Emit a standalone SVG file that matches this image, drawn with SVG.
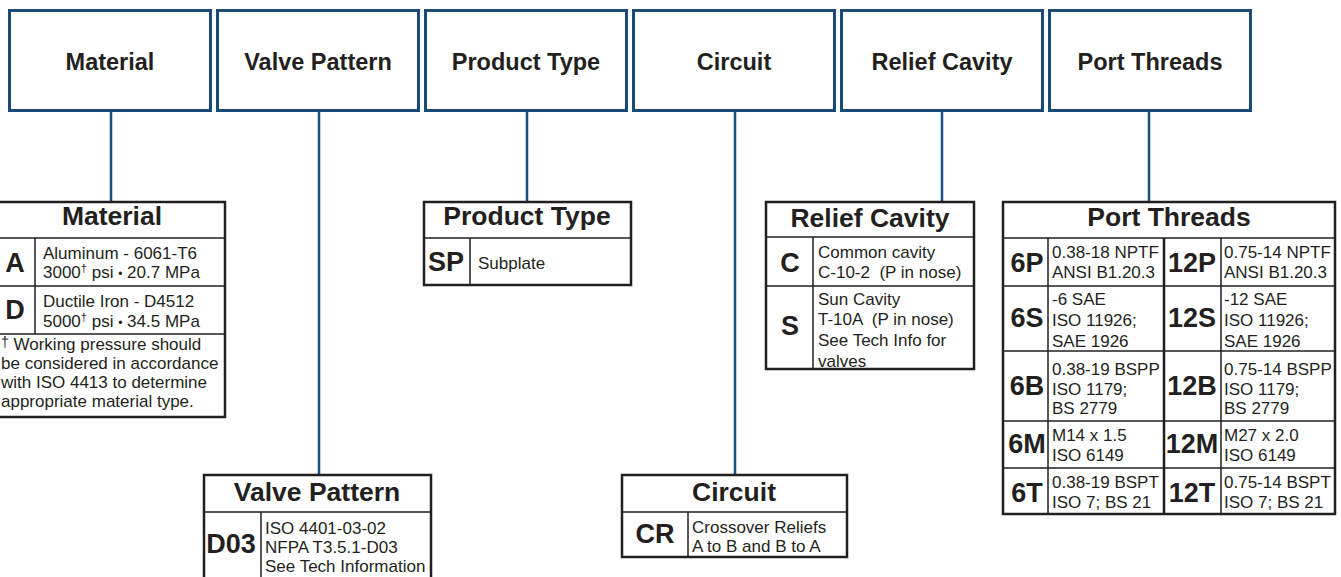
<svg xmlns="http://www.w3.org/2000/svg" width="1341" height="577" viewBox="0 0 1341 577">
<style>
text{fill:#231f20;font-family:"Liberation Sans",Arial,sans-serif}
.top rect{fill:#fff;stroke:#1a4a7a;stroke-width:3}
.h{font-size:23.5px;font-weight:bold;text-anchor:middle}
.th{font-size:26.5px;font-weight:bold;text-anchor:middle}
.code{font-size:27px;font-weight:bold;text-anchor:middle}
.t{font-size:17px}
.sup{font-size:11px}
.dot{font-size:12px}
.box{fill:#fff;stroke:#231f20;stroke-width:2.5}
.in{stroke:#231f20;stroke-width:1.5;fill:none}
#connectors line{stroke:#1c4f80;stroke-width:2.5}
</style>
<rect width="1341" height="577" fill="#fff"/>

<g id="connectors">
<line x1="111" y1="112" x2="111" y2="202"/>
<line x1="319" y1="112" x2="319" y2="475"/>
<line x1="527" y1="112" x2="527" y2="202"/>
<line x1="735" y1="112" x2="735" y2="475"/>
<line x1="942" y1="112" x2="942" y2="202"/>
<line x1="1149" y1="112" x2="1149" y2="202"/>
</g>

<g id="top-material" class="top"><rect x="9.5" y="10.5" width="201" height="100"/><text class="h" x="110" y="70">Material</text></g>
<g id="top-valve" class="top"><rect x="217.5" y="10.5" width="201" height="100"/><text class="h" x="318" y="70">Valve Pattern</text></g>
<g id="top-product" class="top"><rect x="425.5" y="10.5" width="201" height="100"/><text class="h" x="526" y="70">Product Type</text></g>
<g id="top-circuit" class="top"><rect x="633.5" y="10.5" width="201" height="100"/><text class="h" x="734" y="70">Circuit</text></g>
<g id="top-relief" class="top"><rect x="841.5" y="10.5" width="201" height="100"/><text class="h" x="942" y="70">Relief Cavity</text></g>
<g id="top-port" class="top"><rect x="1049.5" y="10.5" width="201" height="100"/><text class="h" x="1150" y="70">Port Threads</text></g>

<g id="table-material">
<rect class="box" x="-2" y="202" width="227" height="215"/>
<path class="in" d="M-2 238H225M-2 286H225M-2 334H225M35 238V334"/>
<text class="th" x="112" y="225">Material</text>
<text class="code" x="15" y="272">A</text>
<text class="code" x="15" y="319">D</text>
<text class="t" x="43" y="259">Aluminum - 6061-T6</text>
<text class="t" x="43" y="278">3000<tspan class="sup" dy="-6">†</tspan><tspan dy="6"> psi </tspan><tspan class="dot">•</tspan><tspan> 20.7 MPa</tspan></text>
<text class="t" x="43" y="307">Ductile Iron - D4512</text>
<text class="t" x="43" y="327">5000<tspan class="sup" dy="-6">†</tspan><tspan dy="6"> psi </tspan><tspan class="dot">•</tspan><tspan> 34.5 MPa</tspan></text>
<text class="t" x="1" y="350"><tspan font-size="14" dy="-3">†</tspan><tspan dy="3"> Working pressure should</tspan></text>
<text class="t" x="1" y="369">be considered in accordance</text>
<text class="t" x="1" y="388">with ISO 4413 to determine</text>
<text class="t" x="1" y="407">appropriate material type.</text>
</g>

<g id="table-product">
<rect class="box" x="424" y="202" width="207" height="83"/>
<path class="in" d="M424 238H631M470 238V285"/>
<text class="th" x="527" y="225">Product Type</text>
<text class="code" x="446" y="271">SP</text>
<text class="t" x="478" y="269">Subplate</text>
</g>

<g id="table-relief">
<rect class="box" x="766" y="202" width="208" height="167"/>
<path class="in" d="M766 237H974M766 286H974M813 237V369"/>
<text class="th" x="870" y="227">Relief Cavity</text>
<text class="code" x="790" y="272">C</text>
<text class="code" x="790" y="335">S</text>
<text class="t" x="818" y="258">Common cavity</text>
<text class="t" x="818" y="278">C-10-2 &#160;(P in nose)</text>
<text class="t" x="818" y="305">Sun Cavity</text>
<text class="t" x="818" y="325">T-10A &#160;(P in nose)</text>
<text class="t" x="818" y="346">See Tech Info for</text>
<text class="t" x="818" y="367">valves</text>
</g>

<g id="table-port">
<rect class="box" x="1003" y="202" width="332" height="312"/>
<path class="in" d="M1003 238H1335M1003 286H1335M1003 351H1335M1003 421H1335M1003 468H1335M1048 238V514M1221 238V514"/>
<line x1="1164" y1="238" x2="1164" y2="514" stroke="#231f20" stroke-width="2.5"/>
<text class="th" x="1169" y="226">Port Threads</text>
<text class="code" x="1027" y="272">6P</text>
<text class="code" x="1192" y="272">12P</text>
<text class="t" x="1052" y="258">0.38-18 NPTF</text>
<text class="t" x="1052" y="278">ANSI B1.20.3</text>
<text class="t" x="1224" y="258">0.75-14 NPTF</text>
<text class="t" x="1224" y="278">ANSI B1.20.3</text>
<text class="code" x="1027" y="327">6S</text>
<text class="code" x="1192" y="327">12S</text>
<text class="t" x="1052" y="305">-6 SAE</text>
<text class="t" x="1052" y="326">ISO 11926;</text>
<text class="t" x="1052" y="347">SAE 1926</text>
<text class="t" x="1224" y="305">-12 SAE</text>
<text class="t" x="1224" y="326">ISO 11926;</text>
<text class="t" x="1224" y="347">SAE 1926</text>
<text class="code" x="1027" y="395">6B</text>
<text class="code" x="1192" y="395">12B</text>
<text class="t" x="1052" y="375">0.38-19 BSPP</text>
<text class="t" x="1052" y="395">ISO 1179;</text>
<text class="t" x="1052" y="414">BS 2779</text>
<text class="t" x="1224" y="375">0.75-14 BSPP</text>
<text class="t" x="1224" y="395">ISO 1179;</text>
<text class="t" x="1224" y="414">BS 2779</text>
<text class="code" x="1027" y="453">6M</text>
<text class="code" x="1192" y="453">12M</text>
<text class="t" x="1052" y="441">M14 x 1.5</text>
<text class="t" x="1052" y="461">ISO 6149</text>
<text class="t" x="1224" y="441">M27 x 2.0</text>
<text class="t" x="1224" y="461">ISO 6149</text>
<text class="code" x="1027" y="502">6T</text>
<text class="code" x="1192" y="502">12T</text>
<text class="t" x="1052" y="488">0.38-19 BSPT</text>
<text class="t" x="1052" y="508">ISO 7; BS 21</text>
<text class="t" x="1224" y="488">0.75-14 BSPT</text>
<text class="t" x="1224" y="508">ISO 7; BS 21</text>
</g>

<g id="table-valve">
<rect class="box" x="204" y="475" width="227" height="110"/>
<path class="in" d="M204 512H431M261 512V580"/>
<text class="th" x="317" y="501">Valve Pattern</text>
<text class="code" x="231" y="553">D03</text>
<text class="t" x="265" y="534">ISO 4401-03-02</text>
<text class="t" x="265" y="553">NFPA T3.5.1-D03</text>
<text class="t" x="265" y="572">See Tech Information</text>
</g>

<g id="table-circuit">
<rect class="box" x="622" y="475" width="225" height="82"/>
<path class="in" d="M622 512H847M688 512V557"/>
<text class="th" x="734" y="501">Circuit</text>
<text class="code" x="655" y="543">CR</text>
<text class="t" x="692" y="533">Crossover Reliefs</text>
<text class="t" x="692" y="552">A to B and B to A</text>
</g>
</svg>
